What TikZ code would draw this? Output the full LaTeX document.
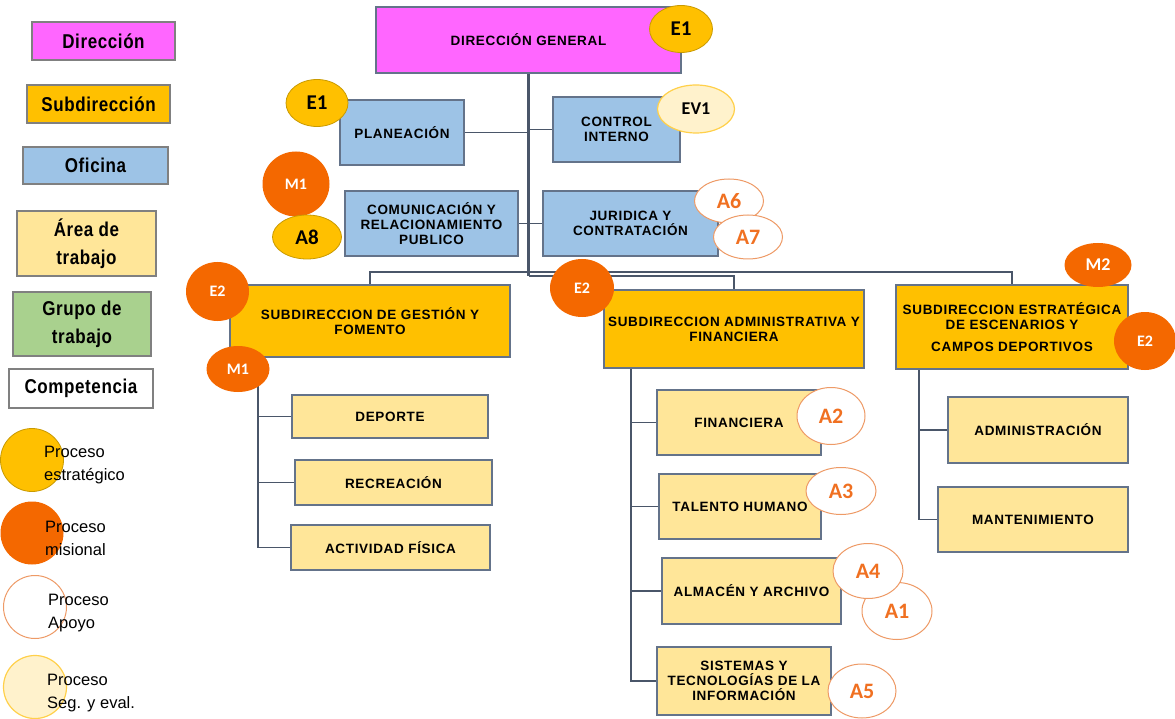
\documentclass[tikz,border=0pt]{standalone}
\usepackage{fontspec}
\setmainfont{Liberation Sans}
\newfontfamily\boxfont[LetterSpace=5]{Liberation Sans}
\newfontfamily\legfont[FakeStretch=0.85,LetterSpace=3]{Liberation Sans}
\newfontfamily\calfont{Carlito}
\usetikzlibrary{shapes.geometric}
\pgfdeclarelayer{bg}
\pgfsetlayers{bg,main}
\definecolor{dircol}{HTML}{FF66FF}
\definecolor{subcol}{HTML}{FFC000}
\definecolor{ofcol}{HTML}{9DC3E6}
\definecolor{areacol}{HTML}{FFE699}
\definecolor{grpcol}{HTML}{A9D18E}
\definecolor{miscol}{HTML}{F46800}
\definecolor{apbord}{HTML}{EE9A66}
\definecolor{aptext}{HTML}{F07021}
\definecolor{segfill}{HTML}{FFF2CC}
\definecolor{segbord}{HTML}{FFD04A}
\definecolor{estbord}{HTML}{C99A00}
\definecolor{boxline}{HTML}{64738A}
\definecolor{connline}{HTML}{4A5669}
\definecolor{legline}{HTML}{808080}
\tikzset{
  bx/.style={draw=boxline, line width=1.6pt, inner sep=0pt, align=center,
    font={\boxfont\bfseries\fontsize{13.5}{15}\selectfont}},
  dirbox/.style={bx, fill=dircol},
  subbox/.style={bx, fill=subcol},
  ofbox/.style={bx, fill=ofcol},
  areabox/.style={bx, fill=areacol},
  lgbox/.style={draw=legline, line width=1.4pt, inner sep=0pt, align=center,
    font={\legfont\bfseries\fontsize{20}{28}\selectfont}},
  legtxt/.style={inner sep=0pt, align=left, anchor=west,
    font={\fontsize{16.5}{23}\selectfont}},
  conn/.style={draw=connline, line width=1.8pt},
  trunk/.style={draw=connline, line width=2.8pt},
  ell/.style={ellipse, inner sep=0pt},
  estr/.style={ell, fill=subcol, draw=estbord, line width=0.8pt, text=black,
    font={\calfont\bfseries\fontsize{21}{21}\selectfont}},
  mis/.style={ell, fill=miscol, text=white,
    font={\calfont\bfseries\fontsize{16}{16}\selectfont}},
  apo/.style={ell, fill=white, draw=apbord, line width=1pt, text=aptext,
    font={\calfont\bfseries\fontsize{22}{22}\selectfont}},
  seg/.style={ell, fill=segfill, draw=segbord, line width=1.2pt, text=black,
    font={\calfont\bfseries\fontsize{18}{18}\selectfont}},
  lgcirc/.style={circle, inner sep=0pt, minimum size=63pt}
}
\begin{document}
\begin{tikzpicture}[x=1pt,y=-1pt]
\begin{pgfonlayer}{bg}
\fill[white] (0,0) rectangle (1175,719);
\end{pgfonlayer}
\path[use as bounding box] (0,0) rectangle (1175,719);

% ---------- legend ----------
\node[lgbox, fill=dircol, minimum width=143pt, minimum height=38pt] (lDir) at (103.5,41) {Dirección};
\node[lgbox, fill=subcol, minimum width=143pt, minimum height=38pt] (lSub) at (98.5,104) {Subdirección};
\node[lgbox, fill=ofcol, minimum width=145pt, minimum height=37pt] (lOf) at (95.5,165.5) {Oficina};
\node[lgbox, fill=areacol, minimum width=139pt, minimum height=65pt] (lArea) at (86.5,243.5) {Área de\\trabajo};
\node[lgbox, fill=grpcol, minimum width=138pt, minimum height=64pt] (lGrp) at (82,324) {Grupo de\\trabajo};
\node[lgbox, fill=white, minimum width=144pt, minimum height=39pt] (lComp) at (81,388.5) {Competencia};

\node[lgcirc, fill=subcol, draw=estbord, line width=0.8pt] (cEst) at (32,460) {};
\node[lgcirc, fill=miscol] (cMis) at (32,533) {};
\node[lgcirc, fill=white, draw=apbord, line width=1pt] (cApo) at (35,607) {};
\node[lgcirc, fill=segfill, draw=segbord, line width=1.2pt] (cSeg) at (35,687) {};
\node[legtxt] (tEst) at (44,465) {Proceso\\estratégico};
\node[legtxt] (tMis) at (45,538) {Proceso\\misional};
\node[legtxt] (tApo) at (48,613) {Proceso\\Apoyo};
\node[legtxt] (tSeg) at (47,693) {Proceso\\Seg. y eval.};

% ---------- boxes ----------
\node[dirbox, minimum width=305pt, minimum height=66pt] (DG) at (528.5,40) {DIRECCIÓN GENERAL};
\node[ofbox, minimum width=124pt, minimum height=65pt] (plan) at (402,132.5) {PLANEACIÓN};
\node[ofbox, minimum width=127pt, minimum height=65pt] (ctrl) at (616.5,129.5) {CONTROL\\INTERNO};
\node[ofbox, minimum width=173pt, minimum height=65pt] (com) at (431.5,223.5) {COMUNICACIÓN Y\\RELACIONAMIENTO\\PUBLICO};
\node[ofbox, minimum width=175pt, minimum height=65pt] (jur) at (630.5,223.5) {JURIDICA Y\\CONTRATACIÓN};

\node[subbox, minimum width=280pt, minimum height=72pt] (subA) at (370,321) {SUBDIRECCION DE GESTIÓN Y\\FOMENTO};
\node[subbox, minimum width=260pt, minimum height=78pt] (subB) at (734,329) {SUBDIRECCION ADMINISTRATIVA Y\\FINANCIERA};
\node[subbox, minimum width=232pt, minimum height=84pt] (subC) at (1012,327) {SUBDIRECCION ESTRATÉGICA\\DE ESCENARIOS Y\\[7pt]CAMPOS DEPORTIVOS};

\node[areabox, minimum width=196pt, minimum height=43pt] (dep) at (390,416.5) {DEPORTE};
\node[areabox, minimum width=197pt, minimum height=45pt] (rec) at (393.5,482.5) {RECREACIÓN};
\node[areabox, minimum width=199pt, minimum height=45pt] (act) at (390.5,547.5) {ACTIVIDAD FÍSICA};

\node[areabox, minimum width=164pt, minimum height=65pt] (fin) at (739,422.5) {FINANCIERA};
\node[areabox, minimum width=162pt, minimum height=65pt] (tal) at (740,506.5) {TALENTO HUMANO};
\node[areabox, minimum width=179pt, minimum height=66pt] (alm) at (751.5,591) {ALMACÉN Y ARCHIVO};
\node[areabox, minimum width=174pt, minimum height=68pt] (sis) at (744,681) {SISTEMAS Y\\TECNOLOGÍAS DE LA\\INFORMACIÓN};

\node[areabox, minimum width=180pt, minimum height=66pt] (adm) at (1038,430) {ADMINISTRACIÓN};
\node[areabox, minimum width=190pt, minimum height=65pt] (man) at (1033,519.5) {MANTENIMIENTO};

% ---------- connectors ----------
\coordinate (jB) at (0,276);
\coordinate (busY) at (0,272);
\coordinate (spA) at (258,357);
\coordinate (spB) at (631,368);
\coordinate (spC) at (919,369);
\begin{pgfonlayer}{bg}
\draw[trunk] (DG.south) -- (DG.south |- jB);
\draw[conn] (DG.south |- jB) -| (subB.north);
\draw[conn] (subA.north) -- (subA.north |- busY) -- (subC.north |- busY) -- (subC.north);
\draw[conn] (plan.east) -- (plan.east -| DG.south);
\draw[conn] (ctrl.west) -- (ctrl.west -| DG.south);
\draw[conn] (com.east) -- (jur.west);
\draw[conn] (spA) |- (dep.west);
\draw[conn] (spA) |- (rec.west);
\draw[conn] (spA) |- (act.west);
\draw[conn] (spB) |- (fin.west);
\draw[conn] (spB) |- (tal.west);
\draw[conn] (spB) |- (alm.west);
\draw[conn] (spB) |- (sis.west);
\draw[conn] (spC) |- (adm.west);
\draw[conn] (spC) |- (man.west);
\end{pgfonlayer}

% ---------- competence markers ----------
\node[estr, minimum width=63pt, minimum height=47pt] (e1a) at (681,29) {E1};
\node[estr, minimum width=62pt, minimum height=47pt] (e1b) at (317,103) {E1};
\node[seg, minimum width=77pt, minimum height=48pt] (ev1) at (696,109) {EV1};
\node[mis, minimum width=67pt, minimum height=65pt] (m1a) at (296,184) {M1};
\node[estr, minimum width=69pt, minimum height=44pt] (a8) at (307,237) {A8};
\node[apo, minimum width=69pt, minimum height=44pt] (a6) at (729,201) {A6};
\node[apo, minimum width=69pt, minimum height=44pt] (a7) at (748,237) {A7};
\node[mis, minimum width=63pt, minimum height=59pt] (e2a) at (217.5,291.5) {E2};
\node[mis, minimum width=63pt, minimum height=46pt] (m1b) at (238,369) {M1};
\node[mis, minimum width=64pt, minimum height=58pt] (e2b) at (582,288) {E2};
\node[mis, minimum width=67pt, minimum height=44pt, font={\calfont\bfseries\fontsize{18}{18}\selectfont}] (m2) at (1098,265) {M2};
\node[mis, minimum width=62pt, minimum height=58pt] (e2c) at (1145,341) {E2};
\node[apo, minimum width=68pt, minimum height=57pt] (a2) at (831,416) {A2};
\node[apo, minimum width=70pt, minimum height=47pt] (a3) at (841,491) {A3};
\node[apo, minimum width=70pt, minimum height=57pt] (a1) at (897,611) {A1};
\node[apo, minimum width=70pt, minimum height=55pt] (a4) at (868,571) {A4};
\node[apo, minimum width=68pt, minimum height=54pt] (a5) at (862,691) {A5};
\end{tikzpicture}
\end{document}
